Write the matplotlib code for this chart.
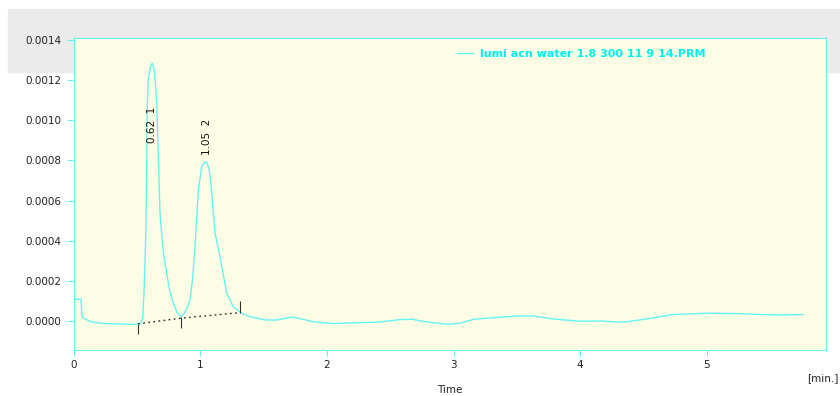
import matplotlib.pyplot as plt
from matplotlib.patches import Rectangle

# detector trace (time in min, signal in AU)
time = [0.0, 0.06, 0.065, 0.08, 0.15, 0.25, 0.35, 0.45, 0.50, 0.53, 0.545, 0.555,
        0.565, 0.572, 0.578, 0.582, 0.59, 0.605, 0.622, 0.635, 0.643, 0.657, 0.669,
        0.683, 0.70, 0.71, 0.735, 0.76, 0.788, 0.82, 0.85, 0.875, 0.90, 0.92, 0.94,
        0.959, 0.985, 1.012, 1.035, 1.051, 1.07, 1.09, 1.117, 1.156, 1.18, 1.209,
        1.26, 1.32, 1.39, 1.52, 1.6, 1.73, 1.89, 2.05, 2.2, 2.39, 2.58, 2.68, 2.73,
        2.85, 2.95, 3.05, 3.16, 3.37, 3.52, 3.63, 3.79, 4.0, 4.16, 4.34, 4.52, 4.73,
        5.0, 5.26, 5.44, 5.6, 5.76]
signal_e4 = [1.09, 1.09, 0.3, 0.15, -0.05, -0.12, -0.13, -0.16, -0.14, -0.1, 0.1, 1.2,
             3.0, 4.8, 8.0, 10.6, 12.0, 12.6, 12.84, 12.55, 12.2, 10.8, 8.3,
             5.4, 4.0, 3.4, 2.4, 1.5, 0.9, 0.4, 0.23, 0.4, 0.7, 1.06, 2.1,
             3.7, 6.5, 7.7, 7.9, 7.91, 7.6, 6.5, 4.4, 3.2, 2.4, 1.4,
             0.73, 0.43, 0.23, 0.06, 0.06, 0.21, -0.02, -0.12, -0.08, -0.05, 0.08, 0.1, 0.02,
             -0.08, -0.15, -0.1, 0.1, 0.2, 0.26, 0.26, 0.11, 0.0, 0.01, -0.05, 0.11, 0.33,
             0.4, 0.38, 0.33, 0.32, 0.33]
signal = [v * 1e-4 for v in signal_e4]

# integration baseline and peak marks
base_t = [0.51, 0.846, 1.317]
base_y = [-0.13e-4, 0.15e-4, 0.43e-4]
mark_lo = [-0.62e-4, -0.32e-4, 0.43e-4]
mark_hi = [-0.13e-4, 0.21e-4, 1.0e-4]

peak_rt = [0.62, 1.05]
peak_no = ['1', '2']
peak_lbl_y = [0.000887, 0.000826]

trace_name = 'lumi acn water 1.8 300 11 9 14.PRM'

cyan = '#66f2f2'
fig = plt.figure(figsize=(8.4, 3.96), dpi=100)
fig.patches.append(Rectangle((8 / 840, 1 - 72 / 396), 832 / 840, 63 / 396,
                             transform=fig.transFigure, color='#ebebeb', zorder=0))
ax = fig.add_axes([73.5 / 840, 46 / 396, 752.5 / 840, 312.5 / 396])
ax.set_zorder(2)
ax.set_facecolor('#fdfde6')

ax.plot(time, signal, color=cyan, lw=1.0, label=trace_name)
ax.plot(base_t, base_y, color='#222222', ls=(0, (1.2, 2.5)), lw=1.0)
ax.vlines(base_t, mark_lo, mark_hi, color='#333333', lw=0.8)

for rt, no, yl in zip(peak_rt, peak_no, peak_lbl_y):
    ax.text(rt, yl, f'{rt:.2f}  {no}', rotation=90, ha='center', va='bottom',
            fontsize=7.5, color='#111111')

ax.set_xlim(0, 5.94)
ax.set_ylim(-0.000143, 0.001411)
ax.set_yticks([i * 0.0002 for i in range(8)])
ax.set_yticklabels([f'{i * 0.0002:.4f}' for i in range(8)])
ax.set_xticks(range(6))
ax.tick_params(axis='both', direction='out', color=cyan, labelsize=7.5,
               labelcolor='#222222')
ax.tick_params(axis='y', length=5)
ax.tick_params(axis='x', length=4)
for s in ax.spines.values():
    s.set_color(cyan)

leg = ax.legend(loc='upper left', bbox_to_anchor=(0.509, 0.962), frameon=False,
                handlelength=1.45, handletextpad=0.65, borderaxespad=0, borderpad=0,
                prop={'size': 8, 'weight': 'bold'}, labelcolor='#00eeee')

fig.text(450 / 840, 1 - 390 / 396, 'Time', ha='center', va='center',
         fontsize=7.5, color='#222222')
fig.text(838 / 840, 1 - 378 / 396, '[min.]', ha='right', va='center',
         fontsize=7.5, color='#222222')

fig.savefig('out.png', dpi=100)
